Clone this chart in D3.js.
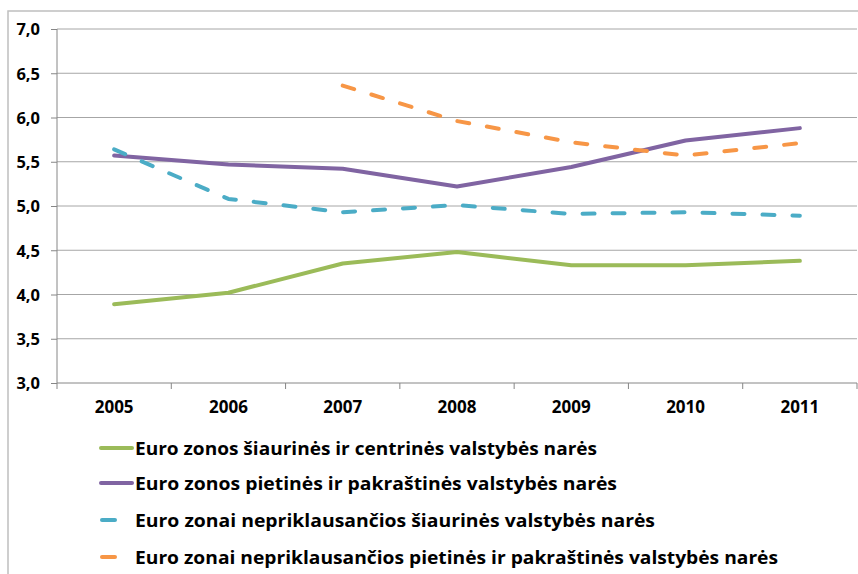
<!DOCTYPE html>
<html><head><meta charset="utf-8">
<script src="https://cdn.jsdelivr.net/npm/d3@7"></script>
<style>body{margin:0;background:#fff}svg{display:block}text{font-family:"Open Sans","Noto Sans",sans-serif;font-weight:bold;fill:#000}</style>
</head><body>
<svg id="c" width="858" height="574"></svg>
<script>
const years = ["2005","2006","2007","2008","2009","2010","2011"];
const yTicks = [3.0,3.5,4.0,4.5,5.0,5.5,6.0,6.5,7.0];
const seriesNames = [
  "Euro zonos šiaurinės ir centrinės valstybės narės",
  "Euro zonos pietinės ir pakraštinės valstybės narės",
  "Euro zonai nepriklausančios šiaurinės valstybės narės",
  "Euro zonai nepriklausančios pietinės ir pakraštinės valstybės narės"
];
const northCore = [3.89, 4.02, 4.35, 4.48, 4.33, 4.33, 4.38];
const southPeriph = [5.57, 5.47, 5.42, 5.22, 5.44, 5.74, 5.88];
const nonEuroNorth = [5.64, 5.08, 4.93, 5.01, 4.91, 4.93, 4.89];
const nonEuroSouth = [null, null, 6.36, 5.96, 5.72, 5.57, 5.71];
const colors = ["#9BBB59","#8064A2","#4BACC6","#F79646"];
const dashed = [false,false,true,true];
const allSeries = [northCore, southPeriph, nonEuroNorth, nonEuroSouth];
const legendWidths = [462, 482, 520, 643];

const svg = d3.select("#c");
// outer border
svg.append("rect").attr("x",8).attr("y",11).attr("width",900).attr("height",600)
  .attr("fill","none").attr("stroke","#BFBFBF").attr("stroke-width",1.5);

const L=57, R=857, T=29, B=383;
const x = d3.scaleBand().domain(years).range([L,R]);
const y = d3.scaleLinear().domain([3,7]).range([B,T]);

// gridlines
svg.append("g").selectAll("line").data(yTicks.filter(d=>d>3)).join("line")
  .attr("x1",L).attr("x2",R).attr("y1",d=>y(d)).attr("y2",d=>y(d))
  .attr("stroke","#A6A6A6").attr("stroke-width",1);

// y axis
const yAxis = svg.append("g").attr("transform",`translate(${L},0)`)
  .call(d3.axisLeft(y).tickValues(yTicks).tickSize(6).tickPadding(11)
    .tickFormat(d=>d3.format(".1f")(d).replace(".",",")));
yAxis.select(".domain").attr("stroke","#868686").attr("d",`M0,${B}V${T}`);
yAxis.selectAll(".tick line").attr("stroke","#868686");
yAxis.selectAll("text").style("font-size","16.5px").attr("dy","0.35em");

// x axis
const xAxis = svg.append("g").attr("transform",`translate(0,${B})`)
  .call(d3.axisBottom(x).tickSize(0).tickPadding(18));
xAxis.select(".domain").attr("stroke","#868686").attr("d",`M${L},0H${R}`);
xAxis.selectAll(".tick line").remove();
xAxis.selectAll("text").style("font-size","17px");
const bounds = d3.range(years.length+1).map(i=>L+i*x.step());
xAxis.append("g").selectAll("line").data(bounds).join("line")
  .attr("x1",d=>d).attr("x2",d=>d).attr("y1",0).attr("y2",6).attr("stroke","#868686");

// lines
const line = d3.line().defined(d=>d.v!=null).x(d=>x(d.k)+x.bandwidth()/2).y(d=>y(d.v));
allSeries.forEach((s,i)=>{
  svg.append("path").datum(years.map((k,j)=>({k,v:s[j]})))
    .attr("d",line).attr("fill","none").attr("stroke",colors[i])
    .attr("stroke-width",4).attr("stroke-linejoin","round")
    .attr("stroke-linecap","round")
    .attr("stroke-dasharray",dashed[i]?"12,18":null);
});

// legend
const legY = [448,483,520,557];
seriesNames.forEach((n,i)=>{
  const g = svg.append("g");
  if(dashed[i]){
    g.append("line").attr("x1",102).attr("x2",115).attr("y1",legY[i]).attr("y2",legY[i])
      .attr("stroke",colors[i]).attr("stroke-width",4).attr("stroke-linecap","round");
  } else {
    g.append("line").attr("x1",101).attr("x2",132).attr("y1",legY[i]).attr("y2",legY[i])
      .attr("stroke",colors[i]).attr("stroke-width",4).attr("stroke-linecap","round");
  }
  g.append("text").attr("x",135).attr("y",legY[i]).attr("dy","0.36em")
    .style("font-size","18.5px")
    .attr("textLength",legendWidths[i]).attr("lengthAdjust","spacingAndGlyphs").text(n);
});
</script>
</body></html>
